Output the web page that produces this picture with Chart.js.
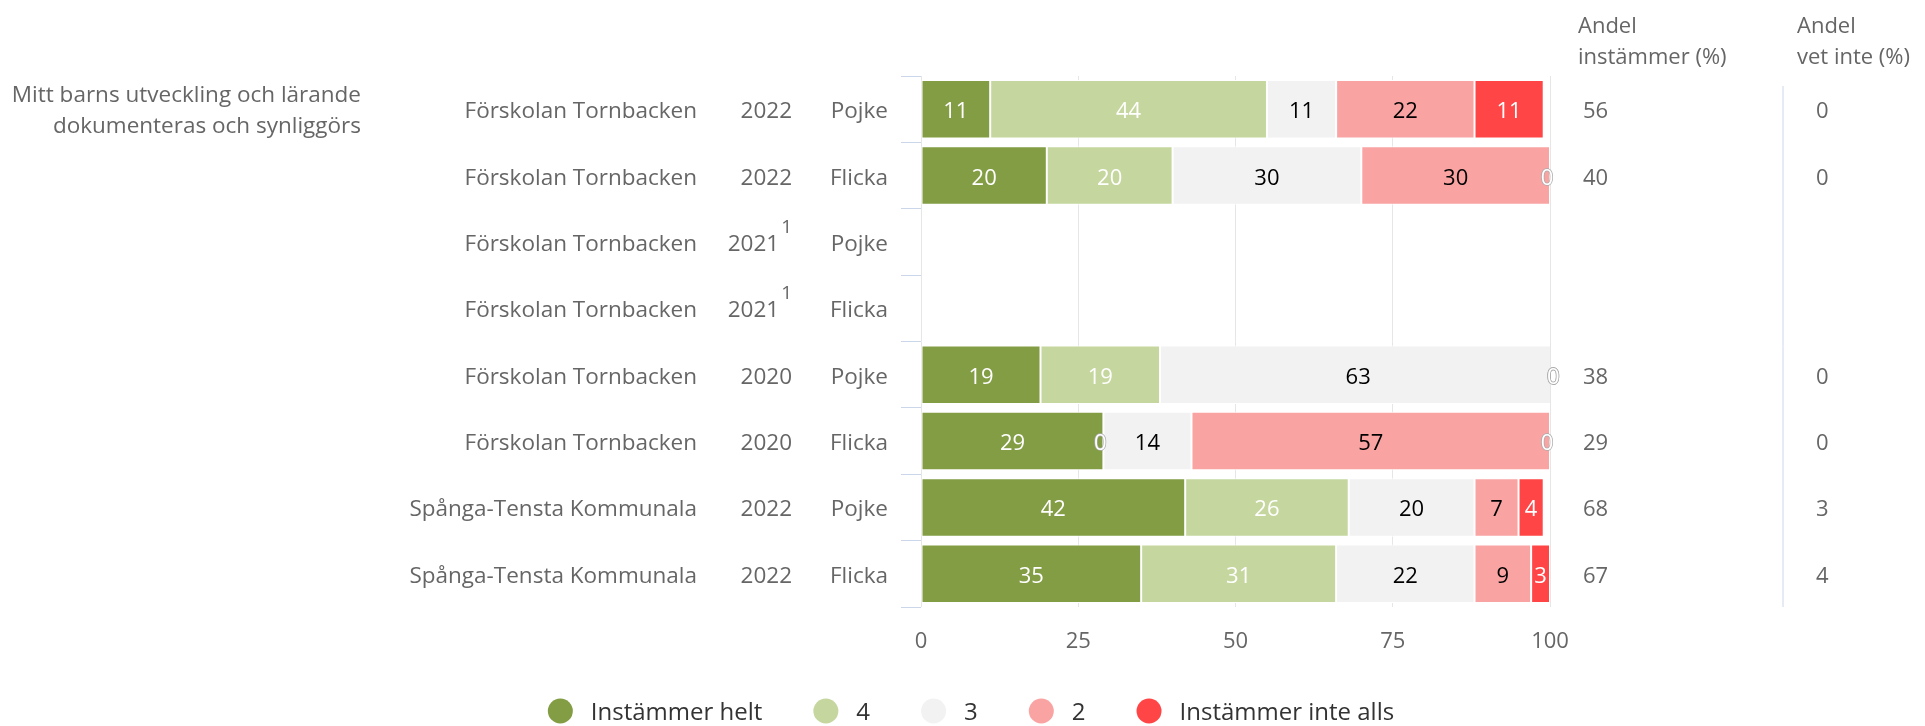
<!DOCTYPE html>
<html lang="sv">
<head>
<meta charset="utf-8">
<title>Mitt barns utveckling och lärande</title>
<script src="https://cdn.jsdelivr.net/npm/chart.js@4.4.1/dist/chart.umd.min.js"></script>
<style>
  html, body { margin: 0; padding: 0; background: #fff; }
  #wrap { width: 1925px; height: 726px; }
</style>
</head>
<body>
<div id="wrap"><canvas id="chart" width="1925" height="726"></canvas></div>
<script>
// Question and row descriptors
const question = ['Mitt barns utveckling och lärande', 'dokumenteras och synliggörs'];
const schools = ['Förskolan Tornbacken', 'Förskolan Tornbacken', 'Förskolan Tornbacken', 'Förskolan Tornbacken',
                 'Förskolan Tornbacken', 'Förskolan Tornbacken', 'Spånga-Tensta Kommunala', 'Spånga-Tensta Kommunala'];
const years = ['2022', '2022', '2021', '2021', '2020', '2020', '2022', '2022'];
const yearNotes = ['', '', '1', '1', '', '', '', ''];
const genders = ['Pojke', 'Flicka', 'Pojke', 'Flicka', 'Pojke', 'Flicka', 'Pojke', 'Flicka'];

// Answer distribution (%), one array per answer option
const seriesNames = ['Instämmer helt', '4', '3', '2', 'Instämmer inte alls'];
const instammerHelt = [11, 20, null, null, 19, 29, 42, 35];
const svar4 = [44, 20, null, null, 19, 0, 26, 31];
const svar3 = [11, 30, null, null, 63, 14, 20, 22];
const svar2 = [22, 30, null, null, 0, 57, 7, 9];
const instammerInteAlls = [11, 0, null, null, 0, 0, 4, 3];

// Side columns
const andelInstammer = [56, 40, null, null, 38, 29, 68, 67];
const andelVetInte = [0, 0, null, null, 0, 0, 3, 4];

const xTicks = [0, 25, 50, 75, 100];

const seriesColors = ['#829d43', '#c5d79e', '#f2f2f2', '#f9a3a3', '#ff4545'];
const valueColors = ['#ffffff', '#ffffff', '#000000', '#000000', '#ffffff'];

const FONT = "'Open Sans', sans-serif";
Chart.defaults.font.family = FONT;

const rows = [instammerHelt, svar4, svar3, svar2, instammerInteAlls];

// Draws row labels, value labels, side columns and the legend
const tablePlugin = {
  id: 'tablePlugin',
  afterDatasetsDraw(chart) {
    const ctx = chart.ctx;
    ctx.save();
    ctx.font = '22px ' + FONT;
    ctx.textAlign = 'center';
    ctx.textBaseline = 'alphabetic';
    chart.data.datasets.forEach((ds, d) => {
      const meta = chart.getDatasetMeta(d);
      meta.data.forEach((bar, i) => {
        const v = ds.data[i];
        if (v === null) return;
        const x = (bar.x + bar.base) / 2;
        const y = bar.y + 9;
        if (v === 0) {
          ctx.lineWidth = 1.5;
          ctx.strokeStyle = '#aaaaaa';
          ctx.strokeText('0', x - 3, y);
          ctx.fillStyle = '#ffffff';
          ctx.fillText('0', x - 3, y);
        } else {
          ctx.fillStyle = valueColors[d];
          ctx.fillText(String(v), x, y);
        }
      });
    });
    ctx.restore();
  },
  afterDraw(chart) {
    const ctx = chart.ctx;
    const yScale = chart.scales.y;
    const area = chart.chartArea;
    ctx.save();
    ctx.fillStyle = '#666666';
    ctx.textBaseline = 'alphabetic';

    // question title
    ctx.font = '22.5px ' + FONT;
    ctx.textAlign = 'right';
    ctx.fillText(question[0], 361, 102);
    ctx.fillText(question[1], 361, 133);

    // row labels
    schools.forEach((s, i) => {
      const y = yScale.getPixelForValue(i) + 9;
      ctx.font = '22.5px ' + FONT;
      ctx.textAlign = 'right';
      ctx.fillText(s, 697, y);
      let yearRight = 792;
      if (yearNotes[i]) {
        ctx.font = '19px ' + FONT;
        ctx.fillText(yearNotes[i], 792, y - 18);
        yearRight = 792 - ctx.measureText(yearNotes[i]).width - 2;
        ctx.font = '22.5px ' + FONT;
      }
      ctx.fillText(years[i], yearRight, y);
      ctx.fillText(genders[i], 888, y);

      ctx.font = '22px ' + FONT;
      ctx.textAlign = 'left';
      if (andelInstammer[i] !== null) ctx.fillText(String(andelInstammer[i]), 1583, y);
      if (andelVetInte[i] !== null) ctx.fillText(String(andelVetInte[i]), 1816, y);
    });

    // column headers
    ctx.font = '22px ' + FONT;
    ctx.textAlign = 'left';
    ctx.fillText('Andel', 1578, 33);
    ctx.fillText('instämmer (%)', 1578, 64);
    ctx.fillText('Andel', 1797, 33);
    ctx.fillText('vet inte (%)', 1797, 64);

    // divider
    ctx.strokeStyle = '#ccd6eb';
    ctx.lineWidth = 1;
    ctx.beginPath();
    ctx.moveTo(1783, area.top + 10);
    ctx.lineTo(1783, area.bottom);
    ctx.stroke();

    // legend
    ctx.font = '24px ' + FONT;
    const r = 12.5, gap = 18, spacing = 51;
    const widths = seriesNames.map(n => 2 * r + gap + ctx.measureText(n).width);
    const total = widths.reduce((a, b) => a + b, 0) + spacing * (widths.length - 1);
    let x = 971 - total / 2;
    const ly = 711;
    seriesNames.forEach((n, k) => {
      ctx.fillStyle = seriesColors[k];
      ctx.beginPath();
      ctx.arc(x + r, ly, r, 0, Math.PI * 2);
      ctx.fill();
      ctx.fillStyle = '#333333';
      ctx.fillText(n, x + 2 * r + gap, ly + 9);
      x += widths[k] + spacing;
    });
    ctx.restore();
  }
};

const ctx = document.getElementById('chart').getContext('2d');
const chart = new Chart(ctx, {
  type: 'bar',
  data: {
    labels: schools.map((s, i) => s + ' ' + years[i] + ' ' + genders[i]),
    datasets: seriesNames.map((name, k) => ({
      label: name,
      data: rows[k],
      backgroundColor: seriesColors[k],
      borderColor: '#ffffff',
      borderWidth: 1,
      borderSkipped: false,
      barPercentage: 0.88,
      categoryPercentage: 1
    }))
  },
  options: {
    indexAxis: 'y',
    responsive: false,
    animation: false,
    devicePixelRatio: 1,
    layout: { padding: { left: 901, right: 375, top: 76, bottom: 59 } },
    plugins: {
      legend: { display: false },
      tooltip: { enabled: false }
    },
    scales: {
      x: {
        stacked: true,
        min: 0,
        max: 100,
        afterBuildTicks: s => { s.ticks = xTicks.map(v => ({ value: v })); },
        afterFit: s => { s.height = 60; },
        grid: { color: '#e6e6e6', drawTicks: false },
        border: { display: false },
        ticks: { color: '#666666', font: { size: 22 }, padding: 22 }
      },
      y: {
        stacked: true,
        afterFit: s => { s.width = 20; },
        grid: { offset: true, drawOnChartArea: false, drawTicks: true, tickLength: 20, color: '#ccd6eb' },
        border: { display: false },
        ticks: { display: false }
      }
    }
  },
  plugins: [tablePlugin]
});
</script>
</body>
</html>
